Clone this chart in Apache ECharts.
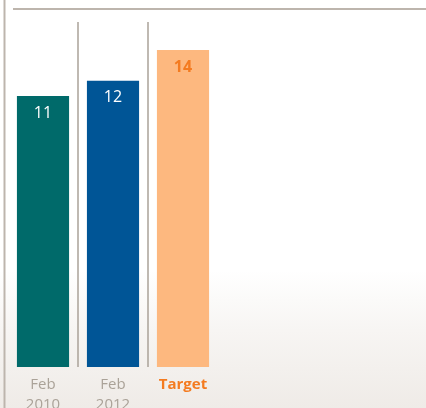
<!DOCTYPE html>
<html><head><meta charset="utf-8">
<script src="https://cdn.jsdelivr.net/npm/echarts@6/dist/echarts.min.js"></script>
<style>
html,body{margin:0;padding:0;}
body{width:426px;height:408px;background:linear-gradient(to bottom,#ffffff 0px,#ffffff 270px,#f7f5f3 330px,#efebe7 408px);}
#c{width:426px;height:408px;}
</style></head><body>
<div id="c"></div>
<script>
const categories = ['Feb\n2010', 'Feb\n2012', 'Target'];
const values = [11, 12, 14];
const barColors = ['#006a6a', '#005596', '#fdb87f'];
const labelColors = ['#ffffff', '#ffffff', '#f47b20'];
const axisLabelColors = ['#aaa298', '#aaa298', '#f47b20'];

const Y_MIN = -6.67, Y_MAX = 15.83;

const chart = echarts.init(document.getElementById('c'));
chart.setOption({
  backgroundColor: 'transparent',
  animation: false,
  graphic: [
    {type: 'line', shape: {x1: 4.5, y1: 0, x2: 4.5, y2: 408}, style: {stroke: '#bdb5ad', lineWidth: 2}},
    {type: 'line', shape: {x1: 13, y1: 9, x2: 426, y2: 9}, style: {stroke: '#bdb5ad', lineWidth: 2}}
  ],
  grid: {left: 8, width: 210, top: 22, bottom: 41, outerBoundsMode: 'none', containLabel: false},
  xAxis: {
    type: 'category',
    data: categories,
    axisLine: {show: false},
    axisTick: {show: false},
    splitLine: {show: true, interval: function (i) { return i === 1 || i === 2; },
      lineStyle: {color: ['#aaa298', '#aaa298', 'rgba(0,0,0,0)'], width: 1.5}},
    axisLabel: {
      interval: 0,
      margin: 8,
      fontFamily: 'Open Sans',
      fontSize: 15,
      lineHeight: 20,
      color: function (v, i) { return axisLabelColors[i]; },
      formatter: function (v, i) { return i === 2 ? '{b|' + v + '}' : v; },
      rich: {b: {fontWeight: 'bold', color: '#f47b20', fontSize: 15, fontFamily: 'Open Sans'}}
    }
  },
  yAxis: {type: 'value', min: Y_MIN, max: Y_MAX, show: false},
  series: [{
    type: 'custom',
    data: values.map(function (v, i) { return [i, v]; }),
    encode: {x: 0, y: 1},
    renderItem: function (params, api) {
      const i = api.value(0);
      const v = api.value(1);
      const top = api.coord([i, v]);
      const base = api.coord([i, Y_MIN]);
      const w = api.size([1, 0])[0] * 0.745;
      return {
        type: 'rect',
        shape: {x: top[0] - w / 2, y: top[1], width: w, height: base[1] - top[1]},
        style: {fill: barColors[i]},
        textContent: {
          style: {
            text: String(v),
            fill: labelColors[i],
            fontSize: 16,
            fontFamily: 'Open Sans',
            fontWeight: i === 2 ? 'bold' : 'normal'
          }
        },
        textConfig: {position: 'insideTop', distance: 9}
      };
    }
  }]
});
</script>
</body></html>
